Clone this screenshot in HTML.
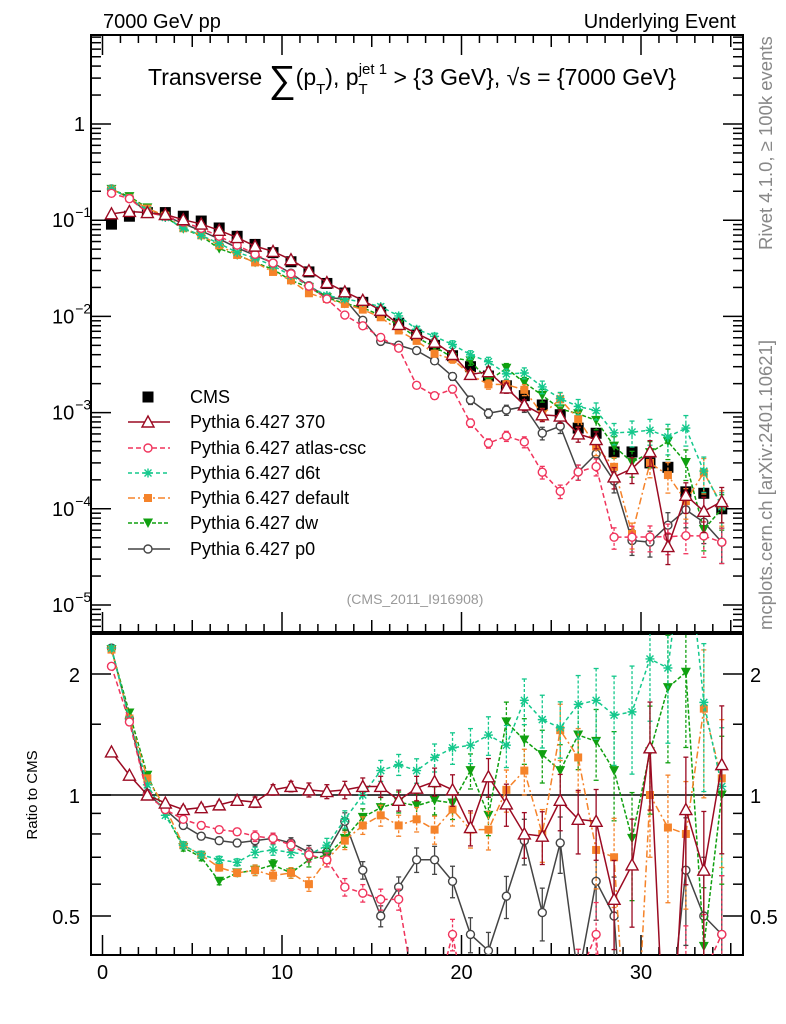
<!DOCTYPE html>
<html><head><meta charset="utf-8">
<style>
html,body{margin:0;padding:0;background:#fff;width:786px;height:1024px;overflow:hidden;}
svg{display:block;font-family:"Liberation Sans",sans-serif;}
</style></head>
<body>
<svg id="chart" width="786" height="1024" viewBox="0 0 786 1024" xmlns="http://www.w3.org/2000/svg" overflow="hidden">
<defs>
<clipPath id="clipMain"><rect x="91" y="35" width="652" height="597"/></clipPath>
<clipPath id="clipRatio"><rect x="91" y="634" width="652" height="321"/></clipPath>
</defs>
<text x="103" y="28" font-size="20">7000 GeV pp</text>
<text x="736" y="28" font-size="20" text-anchor="end">Underlying Event</text>
<text x="148" y="85" font-size="23">Transverse <tspan font-size="38" dy="7">∑</tspan><tspan dy="-7">(p</tspan><tspan font-size="15" dy="9">T</tspan><tspan dy="-9">), p</tspan><tspan font-size="15" dy="9">T</tspan><tspan font-size="15" dx="-9" dy="-20">jet 1</tspan><tspan dy="11"> &gt; {3 GeV}, √s = {7000 GeV}</tspan></text>
<text transform="translate(772,250) rotate(-90)" font-size="18.5" fill="#888">Rivet 4.1.0, ≥ 100k events</text>
<text transform="translate(772,630) rotate(-90)" font-size="18.5" fill="#888">mcplots.cern.ch [arXiv:2401.10621]</text>
<text x="415" y="604" font-size="14" fill="#999" text-anchor="middle">(CMS_2011_I916908)</text>
<text transform="translate(37,795) rotate(-90)" font-size="15" text-anchor="middle">Ratio to CMS</text>
<g id="axes"></g>
<g id="marksMain" clip-path="url(#clipMain)"></g>
<g id="marksRatio" clip-path="url(#clipRatio)"></g>
<g id="legend"></g>
</svg>
<script>
const bins = [0.5,1.5,2.5,3.5,4.5,5.5,6.5,7.5,8.5,9.5,10.5,11.5,12.5,13.5,14.5,15.5,16.5,17.5,18.5,19.5,20.5,21.5,22.5,23.5,24.5,25.5,26.5,27.5,28.5,29.5,30.5,31.5,32.5,33.5,34.5];
const cmsValues = [0.091,0.11,0.12,0.12,0.11,0.098,0.083,0.068,0.056,0.046,0.037,0.029,0.022,0.0175,0.014,0.011,0.0085,0.0064,0.005,0.0039,0.003,0.0024,0.0019,0.0015,0.0012,0.00095,0.00069,0.00061,0.00039,0.00039,0.0003,0.00027,0.00015,0.000145,0.0001];
const cmsRelErr = [0.01,0.01,0.01,0.01,0.01,0.01,0.01,0.01,0.01,0.01,0.01,0.02,0.02,0.02,0.02,0.02,0.02,0.03,0.03,0.03,0.03,0.04,0.04,0.05,0.05,0.06,0.06,0.07,0.08,0.08,0.09,0.1,0.12,0.13,0.15];
const mcRelErr = [0.01,0.01,0.01,0.01,0.02,0.02,0.02,0.02,0.03,0.03,0.03,0.04,0.04,0.05,0.05,0.06,0.06,0.07,0.08,0.09,0.1,0.11,0.12,0.13,0.15,0.16,0.18,0.2,0.25,0.3,0.3,0.35,0.35,0.4,0.4];
const ratio370 = [1.28,1.12,1.0,0.955,0.92,0.93,0.945,0.97,0.96,1.03,1.05,1.03,1.02,1.03,1.05,1.05,0.97,1.04,1.08,1.03,0.83,1.11,0.95,0.8,0.79,0.97,0.87,0.86,0.55,0.67,1.31,0.15,0.92,0.65,1.19];
const ratioAtlas = [2.09,1.52,1.0,0.92,0.87,0.84,0.82,0.81,0.79,0.78,0.75,0.71,0.69,0.59,0.57,0.55,0.55,0.3,0.3,0.45,0.26,0.2,0.3,0.33,0.2,0.16,0.35,0.45,0.13,0.13,0.17,0.19,0.35,0.36,0.45];
const ratioD6t = [2.32,1.54,1.06,0.89,0.75,0.71,0.69,0.68,0.72,0.73,0.72,0.71,0.75,0.87,1.0,1.15,1.19,1.15,1.24,1.31,1.33,1.41,1.33,1.72,1.54,1.47,1.68,1.72,1.58,1.61,2.18,2.07,4.6,1.7,1.05];
const ratioDefault = [2.3,1.55,1.1,0.93,0.75,0.71,0.66,0.64,0.65,0.63,0.64,0.6,0.69,0.77,0.84,0.89,0.84,0.87,0.82,0.92,0.82,0.82,1.03,1.15,0.8,1.45,1.24,0.73,0.7,0.14,1.0,0.83,0.8,1.64,1.1];
const ratioDw = [2.3,1.6,1.12,0.9,0.74,0.7,0.61,0.64,0.65,0.67,0.64,0.69,0.71,0.78,0.88,0.93,0.96,0.94,0.97,0.955,1.15,0.89,1.52,1.37,1.26,1.15,1.41,1.36,1.15,0.78,1.28,1.85,2.02,0.42,1.0];
const ratioP0 = [2.32,1.55,1.01,0.92,0.84,0.79,0.77,0.76,0.77,0.78,0.76,0.72,0.72,0.86,0.65,0.5,0.59,0.69,0.69,0.61,0.45,0.41,0.56,0.77,0.51,0.76,0.35,0.61,0.5,0.12,0.15,0.25,0.65,0.5,0.45];
const yTickExps = [0,-1,-2,-3,-4,-5];
const ratioTicks = [0.5,1,2];
const ratioTickLabels = ["0.5","1","2"];
const xTicks = [0,10,20,30];

const NS="http://www.w3.org/2000/svg";
const X = v => 102.5 + 17.95*v;
const Y = v => 124 - 96.2*Math.log10(v);
const R = r => 795 - 121*Math.log2(r);
function mk(tag, attrs, parent){const e=document.createElementNS(NS,tag);for(const k in attrs)e.setAttribute(k,attrs[k]);parent.appendChild(e);return e;}
const axes=document.getElementById('axes');
const gm=document.getElementById('marksMain');
const gr=document.getElementById('marksRatio');
const gl=document.getElementById('legend');

let f1=mk('rect',{x:91,y:35,width:652,height:597,fill:'none',stroke:'#000','stroke-width':2},axes);


let f2=mk('rect',{x:91,y:634,width:652,height:321,fill:'none',stroke:'#000','stroke-width':2},axes);



for(let e=1;e>=-6;e--){
  for(let m=1;m<10;m++){
    const v=m*Math.pow(10,e); const y=Y(v);
    if(y<35||y>632) continue;
    const L = m===1?20:10;
    mk('line',{x1:91,x2:91+L,y1:y,y2:y,stroke:'#000','stroke-width':1.5},axes);
    mk('line',{x1:743,x2:743-L,y1:y,y2:y,stroke:'#000','stroke-width':1.5},axes);
  }
}
yTickExps.forEach(e=>{
  const y=Y(Math.pow(10,e));
  const t=mk('text',{x:85,y:y+7,'font-size':20,'text-anchor':'end'},axes);
  
  
  if(e===0){t.textContent='1';}
  else{
    t.setAttribute('x',52);t.setAttribute('text-anchor','start');
    const a=document.createElementNS(NS,'tspan');a.textContent='10';t.appendChild(a);
    const b=document.createElementNS(NS,'tspan');b.setAttribute('font-size',14);b.setAttribute('dy',-10);b.setAttribute('dx',1);b.textContent='−'+(-e);t.appendChild(b);
  }
});
[0.5,0.6,0.7,0.8,0.9,1,1.5,2].forEach(r=>{
  const y=R(r); const L=(r===0.5||r===1||r===2)?20:10;
  mk('line',{x1:91,x2:91+L,y1:y,y2:y,stroke:'#000','stroke-width':1.5},axes);
  mk('line',{x1:743,x2:743-L,y1:y,y2:y,stroke:'#000','stroke-width':1.5},axes);
});
ratioTicks.forEach((r,i)=>{
  const y=R(r);
  const t=mk('text',{x:80,y:y+8,'font-size':20,'text-anchor':'end'},axes);
  
  
  t.textContent=ratioTickLabels[i];
  const t2=mk('text',{x:750,y:y+8,'font-size':20},axes);
  
  
  t2.textContent=ratioTickLabels[i];
});
for(let v=0;v<=35;v++){
  const x=X(v); const L=v%10===0?20:(v%5===0?12:8);
  mk('line',{x1:x,x2:x,y1:955,y2:955-L,stroke:'#000','stroke-width':1.5},axes);
  mk('line',{x1:x,x2:x,y1:632,y2:632-L,stroke:'#000','stroke-width':1.5},axes);
  mk('line',{x1:x,x2:x,y1:35,y2:35+L,stroke:'#000','stroke-width':1.5},axes);
}
xTicks.forEach(v=>{
  const t=mk('text',{x:X(v),y:979,'font-size':20,'text-anchor':'middle'},axes);
  
  
  t.textContent=String(v);
});
let ref=mk('line',{x1:91,x2:743,y1:R(1),y2:R(1),stroke:'#000','stroke-width':1.5},axes);



function marker(type,color,x,y,parent,name){
  let e;
  if(type==='sqbig'){e=mk('rect',{x:x-5.5,y:y-5.5,width:11,height:11,fill:color},parent);}
  else if(type==='sq'){e=mk('rect',{x:x-4,y:y-4,width:8,height:8,fill:color},parent);}
  else if(type==='tri'){e=mk('polygon',{points:`${x},${y-6} ${x-6},${y+5} ${x+6},${y+5}`,fill:'#fff',stroke:color,'stroke-width':1.4},parent);}
  else if(type==='tridown'){e=mk('polygon',{points:`${x},${y+5} ${x-5},${y-4.5} ${x+5},${y-4.5}`,fill:color},parent);}
  else if(type==='circ'){e=mk('circle',{cx:x,cy:y,r:4,fill:'#fff',stroke:color,'stroke-width':1.4},parent);}
  else if(type==='star'){e=mk('path',{d:`M${x-4.5},${y}H${x+4.5}M${x},${y-4.5}V${y+4.5}M${x-3.5},${y-3.5}L${x+3.5},${y+3.5}M${x-3.5},${y+3.5}L${x+3.5},${y-3.5}`,stroke:color,'stroke-width':1.4,fill:'none'},parent);}
  
  
  return e;
}

const series=[
  {name:'Pythia 6.427 370',key:'p370',ratio:ratio370,color:'#9b0a22',dash:'',mk:'tri'},
  {name:'Pythia 6.427 atlas-csc',key:'atlas-csc',ratio:ratioAtlas,color:'#f0345c',dash:'5,3',mk:'circ'},
  {name:'Pythia 6.427 d6t',key:'d6t',ratio:ratioD6t,color:'#14c88c',dash:'4,3',mk:'star'},
  {name:'Pythia 6.427 default',key:'default',ratio:ratioDefault,color:'#f5832a',dash:'7,3,2,3',mk:'sq'},
  {name:'Pythia 6.427 dw',key:'dw',ratio:ratioDw,color:'#10a010',dash:'4,2',mk:'tridown'},
  {name:'Pythia 6.427 p0',key:'p0',ratio:ratioP0,color:'#444444',dash:'',mk:'circ'}
];

bins.forEach((b,i)=>{
  const v=cmsValues[i], e=v*cmsRelErr[i];
  mk('line',{x1:X(b),x2:X(b),y1:Y(v+e),y2:Y(Math.max(v-e,1e-9)),stroke:'#000','stroke-width':1.5},gm);
  marker('sqbig','#000',X(b),Y(v),gm,'cms-point');
});

series.slice().reverse().forEach(s=>{
  [['main',gm],['ratio',gr]].forEach(([panel,g])=>{
    const vals=bins.map((b,i)=> panel==='main'? cmsValues[i]*s.ratio[i] : s.ratio[i]);
    const F = panel==='main'?Y:R;
    const pts=bins.map((b,i)=>X(b)+','+F(vals[i])).join(' ');
    const pl=mk('polyline',{points:pts,fill:'none',stroke:s.color,'stroke-width':1.5,'stroke-dasharray':s.dash},g);
    
    
    bins.forEach((b,i)=>{
      const v=vals[i], e=v*mcRelErr[i];
      const lo=Math.max(v-e,1e-9);
      mk('line',{x1:X(b),x2:X(b),y1:F(v+e),y2:F(lo),stroke:s.color,'stroke-width':1.3,'stroke-dasharray':s.dash?'3,2':''},g);
      mk('line',{x1:X(b)-2.5,x2:X(b)+2.5,y1:F(v+e),y2:F(v+e),stroke:s.color,'stroke-width':1.3},g);
      mk('line',{x1:X(b)-2.5,x2:X(b)+2.5,y1:F(lo),y2:F(lo),stroke:s.color,'stroke-width':1.3},g);
      marker(s.mk,s.color,X(b),F(v),g,s.key+'-'+panel+'-point');
    });
  });
});

const legY=[397,422,448,473,498,523,549];
marker('sqbig','#000',148,legY[0],gl,'legend-marker-cms');
let lt=mk('text',{x:190,y:legY[0]+6,'font-size':18},gl);


lt.textContent='CMS';
series.forEach((s,i)=>{
  const y=legY[i+1];
  const l=mk('line',{x1:128,x2:170,y1:y,y2:y,stroke:s.color,'stroke-width':1.5,'stroke-dasharray':s.dash},gl);
  
  
  marker(s.mk,s.color,148,y,gl,'legend-marker-'+s.key);
  const t=mk('text',{x:190,y:y+6,'font-size':18},gl);
  
  
  t.textContent=s.name;
});
</script>
</body></html>
